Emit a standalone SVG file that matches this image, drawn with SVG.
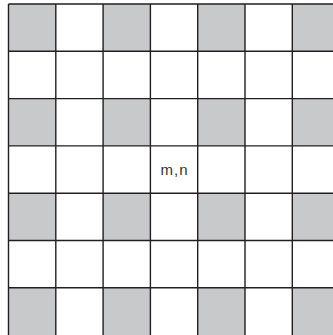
<svg xmlns="http://www.w3.org/2000/svg" width="333" height="335" viewBox="0 0 333 335">
<style>
.g{fill:#c8c9cb}
.l{stroke:#231f20;stroke-width:1.4;fill:none}
.t{font-family:"Liberation Sans",Arial,sans-serif;font-size:15px;letter-spacing:1px;fill:#333}
</style>
<rect width="333" height="335" fill="#fff"/>
<g id="shaded">
<rect class="g" x="8.5" y="4" width="47.3" height="47.3"/>
<rect class="g" x="103.1" y="4" width="47.3" height="47.3"/>
<rect class="g" x="197.7" y="4" width="47.3" height="47.3"/>
<rect class="g" x="292.3" y="4" width="47.3" height="47.3"/>
<rect class="g" x="8.5" y="98.6" width="47.3" height="47.3"/>
<rect class="g" x="103.1" y="98.6" width="47.3" height="47.3"/>
<rect class="g" x="197.7" y="98.6" width="47.3" height="47.3"/>
<rect class="g" x="292.3" y="98.6" width="47.3" height="47.3"/>
<rect class="g" x="8.5" y="193.2" width="47.3" height="47.3"/>
<rect class="g" x="103.1" y="193.2" width="47.3" height="47.3"/>
<rect class="g" x="197.7" y="193.2" width="47.3" height="47.3"/>
<rect class="g" x="292.3" y="193.2" width="47.3" height="47.3"/>
<rect class="g" x="8.5" y="287.8" width="47.3" height="47.3"/>
<rect class="g" x="103.1" y="287.8" width="47.3" height="47.3"/>
<rect class="g" x="197.7" y="287.8" width="47.3" height="47.3"/>
<rect class="g" x="292.3" y="287.8" width="47.3" height="47.3"/>
</g>
<g id="grid" class="l">
<path d="M8.5 4V335M55.8 4V335M103.1 4V335M150.4 4V335M197.7 4V335M245 4V335M292.3 4V335"/>
<path d="M8.5 4H333M8.5 51.3H333M8.5 98.6H333M8.5 145.9H333M8.5 193.2H333M8.5 240.5H333M8.5 287.8H333"/>
</g>
<g id="label">
<text class="t" x="174.5" y="174.5" text-anchor="middle">m,n</text>
</g>
</svg>
